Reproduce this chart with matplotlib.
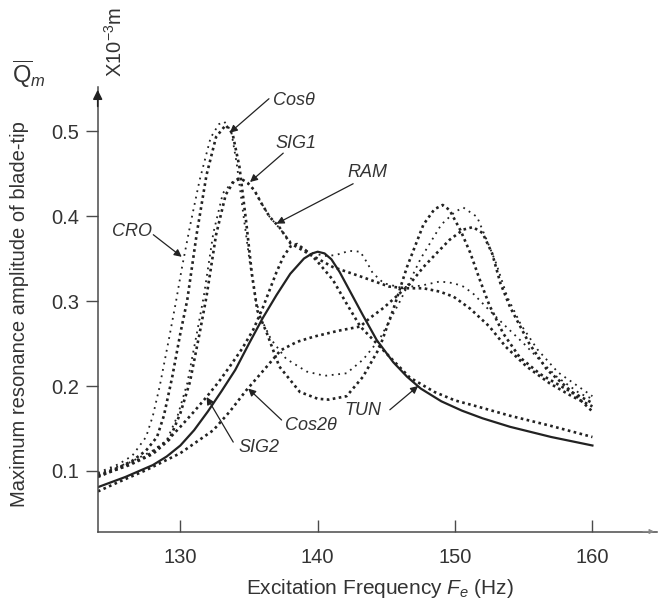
"""
Maximum resonance amplitude of blade-tip vs excitation frequency
"""
import matplotlib
matplotlib.use("Agg")
import matplotlib.pyplot as plt

plt.rcParams["font.family"] = ["Liberation Sans", "DejaVu Sans"]
plt.rcParams["mathtext.fontset"] = "custom"
plt.rcParams["mathtext.rm"] = "Liberation Sans"
plt.rcParams["mathtext.it"] = "Liberation Sans:italic"

INK   = "#222222"
TEXT  = "#333333"
AXIS  = "#4a4a4a"

# ── data ──────────────────────────────────────────────────────────────────────
f_cro = [124.0, 125.5, 126.5, 127.5, 128.0, 128.5, 129.2, 129.7, 130.1, 130.7,
         131.4, 132.2, 132.8, 133.2, 133.7, 134.1, 134.6, 135.1, 135.5, 136.0,
         136.6, 137.7, 139.2, 140.5, 142.1, 143.3, 144.5, 146.0, 147.5, 149.0,
         150.0, 150.6, 151.6, 152.3, 153.0, 153.8, 154.8, 156.0, 157.5, 160.0]
a_cro = [0.098, 0.108, 0.118, 0.140, 0.165, 0.200, 0.258, 0.301, 0.338, 0.388,
         0.442, 0.492, 0.508, 0.511, 0.500, 0.462, 0.400, 0.340, 0.300, 0.275,
         0.255, 0.232, 0.217, 0.212, 0.215, 0.231, 0.255, 0.300, 0.350, 0.390,
         0.405, 0.410, 0.399, 0.372, 0.344, 0.305, 0.272, 0.243, 0.216, 0.188]

f_cos = [124.0, 125.5, 126.5, 127.5, 128.3, 128.8, 129.4, 130.0, 130.5, 131.2,
         131.9, 132.6, 133.3, 133.8, 134.3, 134.8, 135.2, 135.6, 136.3, 137.2,
         138.7, 140.0, 140.8, 142.1, 143.3, 144.5, 145.5, 146.5, 147.7, 148.5,
         149.1, 149.6, 150.4, 151.1, 151.8, 152.5, 153.5, 154.7, 156.2, 157.9, 160.0]
a_cos = [0.095, 0.104, 0.112, 0.124, 0.140, 0.165, 0.210, 0.262, 0.301, 0.380,
         0.448, 0.493, 0.507, 0.497, 0.458, 0.392, 0.333, 0.289, 0.262, 0.223,
         0.193, 0.185, 0.184, 0.188, 0.211, 0.245, 0.290, 0.340, 0.390, 0.408,
         0.413, 0.407, 0.383, 0.357, 0.325, 0.295, 0.262, 0.234, 0.214, 0.198, 0.180]

f_sig1 = [124.0, 126.3, 128.0, 129.0, 129.8, 130.5, 131.2, 131.7, 132.4, 133.1,
          133.9, 134.3, 134.8, 135.3, 135.8, 136.5, 137.2, 138.0, 139.3, 140.5,
          141.3, 142.3, 143.1, 143.6, 144.0, 144.8, 146.0, 147.5, 148.9, 149.9,
          150.6, 151.3, 152.5, 153.7, 155.0, 156.2, 157.4, 159.1, 160.0]
a_sig1 = [0.097, 0.110, 0.124, 0.136, 0.165, 0.203, 0.262, 0.305, 0.380, 0.427,
          0.442, 0.445, 0.440, 0.432, 0.418, 0.399, 0.386, 0.370, 0.358, 0.353,
          0.354, 0.359, 0.358, 0.345, 0.333, 0.321, 0.316, 0.318, 0.323, 0.321,
          0.317, 0.309, 0.289, 0.270, 0.250, 0.230, 0.211, 0.191, 0.185]

f_ram = [124.0, 126.3, 128.0, 129.2, 130.0, 130.7, 131.4, 131.9, 132.6, 133.3,
         133.9, 134.4, 134.9, 135.4, 135.9, 136.5, 137.2, 138.0, 139.3, 141.1,
         143.1, 145.2, 146.5, 147.7, 148.9, 149.9, 151.1, 152.5, 153.7, 155.2,
         156.9, 158.5, 160.0]
a_ram = [0.094, 0.107, 0.120, 0.137, 0.168, 0.205, 0.262, 0.305, 0.378, 0.425,
         0.441, 0.444, 0.439, 0.430, 0.415, 0.399, 0.387, 0.368, 0.356, 0.340,
         0.329, 0.317, 0.315, 0.315, 0.311, 0.305, 0.291, 0.270, 0.246, 0.223,
         0.203, 0.188, 0.176]

f_sig2 = [124.0, 125.5, 127.5, 129.0, 130.0, 131.0, 131.9, 132.8, 133.6, 134.5,
          135.3, 136.0, 136.5, 137.0, 137.5, 138.0, 138.5, 139.1, 139.9, 141.1,
          142.1, 143.1, 144.3, 145.5, 146.7, 148.5, 150.0, 151.6, 154.0, 157.0,
          160.0]
a_sig2 = [0.093, 0.103, 0.117, 0.135, 0.152, 0.170, 0.187, 0.205, 0.223, 0.244,
          0.266, 0.292, 0.313, 0.334, 0.352, 0.364, 0.367, 0.360, 0.348, 0.325,
          0.297, 0.270, 0.250, 0.230, 0.210, 0.193, 0.183, 0.176, 0.165, 0.153,
          0.140]

f_cos2 = [124.0, 125.5, 127.5, 130.0, 132.4, 133.6, 134.8, 136.3, 137.3, 138.5,
          139.7, 141.5, 143.1, 143.8, 144.8, 145.7, 146.7, 147.7, 148.7, 149.6,
          150.6, 151.3, 152.0, 152.7, 153.3, 154.0, 155.4, 156.7, 158.1, 160.0]
a_cos2 = [0.076, 0.087, 0.101, 0.121, 0.148, 0.170, 0.195, 0.223, 0.242, 0.252,
          0.258, 0.265, 0.270, 0.280, 0.292, 0.305, 0.320, 0.340, 0.357, 0.372,
          0.384, 0.387, 0.380, 0.356, 0.321, 0.293, 0.250, 0.219, 0.199, 0.170]

f_tun = [124.0, 125.0, 126.0, 127.0, 128.0, 129.0, 130.0, 131.0, 132.0, 133.0,
         134.0, 135.0, 136.0, 137.0, 138.0, 139.0, 139.6, 140.0, 140.5, 141.0,
         141.6, 142.3, 143.3, 144.3, 145.5, 146.5, 147.5, 149.0, 150.5, 152.0,
         154.0, 157.0, 160.0]
a_tun = [0.081, 0.087, 0.093, 0.100, 0.107, 0.117, 0.130, 0.148, 0.170, 0.194,
         0.219, 0.250, 0.280, 0.307, 0.332, 0.350, 0.356, 0.358, 0.356, 0.349,
         0.334, 0.313, 0.283, 0.254, 0.228, 0.211, 0.197, 0.182, 0.171, 0.162,
         0.152, 0.140, 0.130]

x_ticks = [130, 140, 150, 160]
y_ticks = [0.1, 0.2, 0.3, 0.4, 0.5]

# ── figure ────────────────────────────────────────────────────────────────────
fig = plt.figure(figsize=(6.6, 6.08), dpi=100, facecolor="white")
ax = fig.add_axes([0.1480, 0.1258, 0.8474, 0.7311])

FINE   = dict(color=INK, lw=1.3, dashes=(1, 2.6))
SQUARE = dict(color=INK, lw=1.9, dashes=(1, 1.3))

ax.plot(f_cro, a_cro, **FINE)
ax.plot(f_cos, a_cos, **SQUARE)
ax.plot(f_sig1, a_sig1, **FINE)
ax.plot(f_ram, a_ram, **SQUARE)
ax.plot(f_sig2, a_sig2, **SQUARE)
ax.plot(f_cos2, a_cos2, **SQUARE)
ax.plot(f_tun, a_tun, color=INK, lw=1.6, solid_joinstyle="round")

ax.set_xlim(123.98, 164.7)
ax.set_ylim(0.0288, 0.5518)

for side in ("top", "right"):
    ax.spines[side].set_visible(False)
for side in ("left", "bottom"):
    ax.spines[side].set_color(AXIS)
    ax.spines[side].set_linewidth(1.1)

ax.set_xticks(x_ticks)
ax.set_xticklabels([str(t) for t in x_ticks])
ax.set_yticks(y_ticks)
ax.set_yticklabels([f"{t:.1f}" for t in y_ticks])
ax.tick_params(axis="x", direction="in", length=8.6, width=1.0, color=AXIS,
               labelsize=14.5, labelcolor=TEXT, pad=12)
ax.tick_params(axis="y", direction="out", length=8.6, width=1.0, color=AXIS,
               labelsize=14.5, labelcolor=TEXT, pad=5)

# axis arrows
ax.annotate("", xy=(0, 1.0), xytext=(0, 0.95), xycoords="axes fraction",
            arrowprops=dict(arrowstyle="-|>", color=INK, lw=1.1, mutation_scale=14))
ax.annotate("", xy=(1.0, 0), xytext=(0.97, 0), xycoords="axes fraction",
            arrowprops=dict(arrowstyle="-|>", color="#888888", lw=0.8, mutation_scale=7))

# axis labels
fig.text(380 / 660, 1 - 588 / 608, "Excitation Frequency $F_e$ (Hz)",
         ha="center", va="center", fontsize=15, color=TEXT)
fig.text(20 / 660, 1 - 314 / 608, "Maximum resonance amplitude of blade-tip",
         ha="center", va="center", rotation=90, fontsize=14.5, color=TEXT)
fig.text(12 / 660, 1 - 83 / 608, r"$\overline{\mathrm{Q}}_m$",
         ha="left", va="baseline", fontsize=17, color=TEXT)
fig.text(115 / 660, 1 - 42 / 608, r"X10$^{-3}$m",
         ha="center", va="center", rotation=90, fontsize=14.5, color=TEXT)

# curve labels with arrows
ARROW = dict(arrowstyle="-|>", color=INK, lw=0.9, mutation_scale=11,
             shrinkA=0, shrinkB=0)
LBL = dict(fontsize=13, style="italic", color=TEXT)

ax.annotate("", xy=(133.6, 0.498), xytext=(136.45, 0.538), arrowprops=ARROW)
ax.text(136.75, 0.536, "Cos\u03b8", ha="left", va="center", **LBL)

ax.annotate("", xy=(135.07, 0.440), xytext=(137.49, 0.474), arrowprops=ARROW)
ax.text(136.9, 0.485, "SIG1", ha="left", va="center", **LBL)

ax.annotate("", xy=(137.0, 0.391), xytext=(142.58, 0.438), arrowprops=ARROW)
ax.text(142.2, 0.451, "RAM", ha="left", va="center", **LBL)

ax.annotate("", xy=(130.1, 0.352), xytext=(128.03, 0.378), arrowprops=ARROW)
ax.text(127.9, 0.382, "CRO", ha="right", va="center", **LBL)

ax.annotate("", xy=(131.91, 0.187), xytext=(133.85, 0.134), arrowprops=ARROW)
ax.text(134.2, 0.128, "SIG2", ha="left", va="center", **LBL)

ax.annotate("", xy=(134.94, 0.197), xytext=(137.37, 0.160), arrowprops=ARROW)
ax.text(137.6, 0.154, "Cos2\u03b8", ha="left", va="center", **LBL)

ax.annotate("", xy=(147.31, 0.200), xytext=(145.25, 0.172), arrowprops=ARROW)
ax.text(144.65, 0.171, "TUN", ha="right", va="center", **LBL)

fig.savefig("out.png", dpi=100, facecolor="white")
